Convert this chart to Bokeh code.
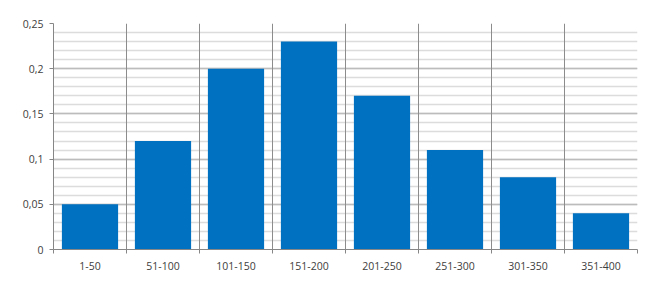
from bokeh.plotting import figure
from bokeh.models import FixedTicker, CustomJSTickFormatter, Range1d, ColumnDataSource
from bokeh.embed import file_html
from bokeh.resources import INLINE

categories = ["1-50", "51-100", "101-150", "151-200", "201-250", "251-300", "301-350", "351-400"]
values = [0.05, 0.12, 0.20, 0.23, 0.17, 0.11, 0.08, 0.04]
y_ticks = [0, 0.05, 0.10, 0.15, 0.20, 0.25]

n = len(categories)
centers = [i + 0.5 for i in range(n)]
src = ColumnDataSource(dict(x=centers, top=values, cat=categories))

p = figure(width=657, height=286, output_backend="svg", toolbar_location=None,
           x_range=Range1d(0, n), y_range=Range1d(0, 0.25),
           min_border_left=53, min_border_right=20, min_border_top=23, min_border_bottom=37)
p.outline_line_color = None
p.background_fill_color = "white"
p.border_fill_color = "white"

p.vbar(x="x", top="top", width=0.77, source=src, fill_color="#0070C0", line_color=None)

font = "Open Sans"
# x axis
p.xaxis.ticker = FixedTicker(ticks=centers, minor_ticks=list(range(n + 1)))
p.xaxis.major_label_overrides = {c: lab for c, lab in zip(centers, categories)}
p.xaxis.major_tick_out = 0
p.xaxis.major_tick_in = 0
p.xaxis.minor_tick_out = 4
p.xaxis.minor_tick_in = 0
p.xaxis.minor_tick_line_color = "#868686"
p.xaxis.axis_line_color = "#868686"
p.xaxis.major_label_text_font = font
p.xaxis.major_label_text_font_size = "10.5px"
p.xaxis.major_label_text_color = "#404040"
p.xaxis.major_label_standoff = 8

p.xgrid.grid_line_color = None
p.xgrid.minor_grid_line_color = "#8c8c8c"
p.xgrid.minor_grid_line_width = 1

# y axis
p.yaxis.ticker = FixedTicker(ticks=y_ticks, minor_ticks=[i / 100 for i in range(26)])
p.yaxis.formatter = CustomJSTickFormatter(code="return String(Math.round(tick*100)/100).replace('.', ',');")
p.yaxis.major_tick_out = 4
p.yaxis.major_tick_in = 0
p.yaxis.minor_tick_out = 0
p.yaxis.minor_tick_in = 0
p.yaxis.major_tick_line_color = "#868686"
p.yaxis.axis_line_color = "#868686"
p.yaxis.major_label_text_font = font
p.yaxis.major_label_text_font_size = "10.5px"
p.yaxis.major_label_text_color = "#404040"
p.yaxis.major_label_standoff = 6

p.ygrid.grid_line_color = "#bcbcbc"
p.ygrid.grid_line_width = 1.5
p.ygrid.minor_grid_line_color = "#dcdcdc"
p.ygrid.minor_grid_line_width = 1.5

# draw horizontal grid first so vertical lines sit on top
xg = p.xgrid[0]
yg = p.ygrid[0]
others = [r for r in p.center if r is not xg and r is not yg]
p.center = [yg, xg] + others

open("out.html", "w").write(file_html(p, INLINE))
